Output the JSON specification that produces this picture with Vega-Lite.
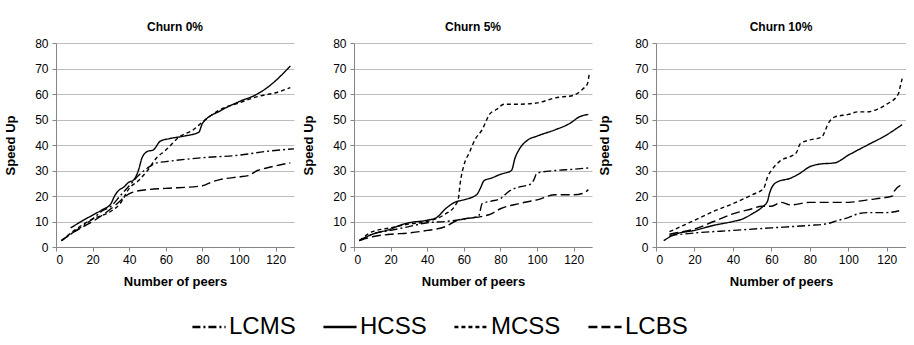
{
  "$schema": "https://vega.github.io/schema/vega-lite/v6.json",
  "padding": {"left": 4, "top": 21, "right": 0, "bottom": 0},
  "spacing": 5,
  "datasets": {
    "d": [
      {"panel": "Churn 0%", "series": "HCSS", "x": 8, "y": 7.5},
      {"panel": "Churn 0%", "series": "HCSS", "x": 15, "y": 10.5},
      {"panel": "Churn 0%", "series": "HCSS", "x": 20, "y": 12.5},
      {"panel": "Churn 0%", "series": "HCSS", "x": 25, "y": 14.5},
      {"panel": "Churn 0%", "series": "HCSS", "x": 30, "y": 17},
      {"panel": "Churn 0%", "series": "HCSS", "x": 32, "y": 20},
      {"panel": "Churn 0%", "series": "HCSS", "x": 34, "y": 22},
      {"panel": "Churn 0%", "series": "HCSS", "x": 37, "y": 23.5},
      {"panel": "Churn 0%", "series": "HCSS", "x": 40, "y": 25.5},
      {"panel": "Churn 0%", "series": "HCSS", "x": 42, "y": 26},
      {"panel": "Churn 0%", "series": "HCSS", "x": 45, "y": 30},
      {"panel": "Churn 0%", "series": "HCSS", "x": 47, "y": 35},
      {"panel": "Churn 0%", "series": "HCSS", "x": 50, "y": 37.5},
      {"panel": "Churn 0%", "series": "HCSS", "x": 53, "y": 38},
      {"panel": "Churn 0%", "series": "HCSS", "x": 57, "y": 41.5},
      {"panel": "Churn 0%", "series": "HCSS", "x": 62, "y": 42.5},
      {"panel": "Churn 0%", "series": "HCSS", "x": 70, "y": 43.5},
      {"panel": "Churn 0%", "series": "HCSS", "x": 78, "y": 45},
      {"panel": "Churn 0%", "series": "HCSS", "x": 80, "y": 48.5},
      {"panel": "Churn 0%", "series": "HCSS", "x": 90, "y": 53.5},
      {"panel": "Churn 0%", "series": "HCSS", "x": 100, "y": 57},
      {"panel": "Churn 0%", "series": "HCSS", "x": 110, "y": 60},
      {"panel": "Churn 0%", "series": "HCSS", "x": 118, "y": 64},
      {"panel": "Churn 0%", "series": "HCSS", "x": 124, "y": 68},
      {"panel": "Churn 0%", "series": "HCSS", "x": 128, "y": 71},

      {"panel": "Churn 0%", "series": "MCSS", "x": 3, "y": 2.5},
      {"panel": "Churn 0%", "series": "MCSS", "x": 10, "y": 6.5},
      {"panel": "Churn 0%", "series": "MCSS", "x": 20, "y": 11},
      {"panel": "Churn 0%", "series": "MCSS", "x": 30, "y": 14},
      {"panel": "Churn 0%", "series": "MCSS", "x": 35, "y": 17},
      {"panel": "Churn 0%", "series": "MCSS", "x": 40, "y": 23},
      {"panel": "Churn 0%", "series": "MCSS", "x": 45, "y": 26},
      {"panel": "Churn 0%", "series": "MCSS", "x": 50, "y": 30},
      {"panel": "Churn 0%", "series": "MCSS", "x": 55, "y": 35},
      {"panel": "Churn 0%", "series": "MCSS", "x": 60, "y": 38},
      {"panel": "Churn 0%", "series": "MCSS", "x": 67, "y": 43},
      {"panel": "Churn 0%", "series": "MCSS", "x": 75, "y": 46},
      {"panel": "Churn 0%", "series": "MCSS", "x": 80, "y": 49},
      {"panel": "Churn 0%", "series": "MCSS", "x": 90, "y": 54},
      {"panel": "Churn 0%", "series": "MCSS", "x": 100, "y": 56.5},
      {"panel": "Churn 0%", "series": "MCSS", "x": 110, "y": 59},
      {"panel": "Churn 0%", "series": "MCSS", "x": 120, "y": 60.5},
      {"panel": "Churn 0%", "series": "MCSS", "x": 128, "y": 62.5},

      {"panel": "Churn 0%", "series": "LCMS", "x": 3, "y": 2.5},
      {"panel": "Churn 0%", "series": "LCMS", "x": 10, "y": 6},
      {"panel": "Churn 0%", "series": "LCMS", "x": 20, "y": 11},
      {"panel": "Churn 0%", "series": "LCMS", "x": 25, "y": 14},
      {"panel": "Churn 0%", "series": "LCMS", "x": 30, "y": 16},
      {"panel": "Churn 0%", "series": "LCMS", "x": 35, "y": 20},
      {"panel": "Churn 0%", "series": "LCMS", "x": 40, "y": 24},
      {"panel": "Churn 0%", "series": "LCMS", "x": 45, "y": 28},
      {"panel": "Churn 0%", "series": "LCMS", "x": 50, "y": 31},
      {"panel": "Churn 0%", "series": "LCMS", "x": 55, "y": 33},
      {"panel": "Churn 0%", "series": "LCMS", "x": 60, "y": 33.5},
      {"panel": "Churn 0%", "series": "LCMS", "x": 80, "y": 35},
      {"panel": "Churn 0%", "series": "LCMS", "x": 100, "y": 36},
      {"panel": "Churn 0%", "series": "LCMS", "x": 115, "y": 37.5},
      {"panel": "Churn 0%", "series": "LCMS", "x": 130, "y": 38.5},

      {"panel": "Churn 0%", "series": "LCBS", "x": 3, "y": 2.5},
      {"panel": "Churn 0%", "series": "LCBS", "x": 10, "y": 6},
      {"panel": "Churn 0%", "series": "LCBS", "x": 15, "y": 8},
      {"panel": "Churn 0%", "series": "LCBS", "x": 20, "y": 10},
      {"panel": "Churn 0%", "series": "LCBS", "x": 30, "y": 15},
      {"panel": "Churn 0%", "series": "LCBS", "x": 35, "y": 18},
      {"panel": "Churn 0%", "series": "LCBS", "x": 38, "y": 20},
      {"panel": "Churn 0%", "series": "LCBS", "x": 42, "y": 21.5},
      {"panel": "Churn 0%", "series": "LCBS", "x": 50, "y": 22.5},
      {"panel": "Churn 0%", "series": "LCBS", "x": 60, "y": 23},
      {"panel": "Churn 0%", "series": "LCBS", "x": 80, "y": 24},
      {"panel": "Churn 0%", "series": "LCBS", "x": 85, "y": 25.5},
      {"panel": "Churn 0%", "series": "LCBS", "x": 90, "y": 26.5},
      {"panel": "Churn 0%", "series": "LCBS", "x": 100, "y": 27.5},
      {"panel": "Churn 0%", "series": "LCBS", "x": 105, "y": 28},
      {"panel": "Churn 0%", "series": "LCBS", "x": 110, "y": 30},
      {"panel": "Churn 0%", "series": "LCBS", "x": 115, "y": 31},
      {"panel": "Churn 0%", "series": "LCBS", "x": 128, "y": 33},

      {"panel": "Churn 5%", "series": "MCSS", "x": 3, "y": 2.5},
      {"panel": "Churn 5%", "series": "MCSS", "x": 10, "y": 6},
      {"panel": "Churn 5%", "series": "MCSS", "x": 20, "y": 7.5},
      {"panel": "Churn 5%", "series": "MCSS", "x": 30, "y": 9},
      {"panel": "Churn 5%", "series": "MCSS", "x": 40, "y": 10},
      {"panel": "Churn 5%", "series": "MCSS", "x": 50, "y": 13},
      {"panel": "Churn 5%", "series": "MCSS", "x": 55, "y": 16},
      {"panel": "Churn 5%", "series": "MCSS", "x": 57, "y": 19},
      {"panel": "Churn 5%", "series": "MCSS", "x": 58, "y": 25},
      {"panel": "Churn 5%", "series": "MCSS", "x": 60, "y": 32},
      {"panel": "Churn 5%", "series": "MCSS", "x": 63, "y": 37},
      {"panel": "Churn 5%", "series": "MCSS", "x": 66, "y": 42},
      {"panel": "Churn 5%", "series": "MCSS", "x": 70, "y": 46},
      {"panel": "Churn 5%", "series": "MCSS", "x": 74, "y": 52},
      {"panel": "Churn 5%", "series": "MCSS", "x": 78, "y": 54},
      {"panel": "Churn 5%", "series": "MCSS", "x": 82, "y": 56},
      {"panel": "Churn 5%", "series": "MCSS", "x": 90, "y": 56},
      {"panel": "Churn 5%", "series": "MCSS", "x": 100, "y": 56.5},
      {"panel": "Churn 5%", "series": "MCSS", "x": 110, "y": 58.5},
      {"panel": "Churn 5%", "series": "MCSS", "x": 120, "y": 59.5},
      {"panel": "Churn 5%", "series": "MCSS", "x": 125, "y": 62},
      {"panel": "Churn 5%", "series": "MCSS", "x": 127.5, "y": 64},
      {"panel": "Churn 5%", "series": "MCSS", "x": 128.5, "y": 68},

      {"panel": "Churn 5%", "series": "HCSS", "x": 3, "y": 2.5},
      {"panel": "Churn 5%", "series": "HCSS", "x": 10, "y": 5},
      {"panel": "Churn 5%", "series": "HCSS", "x": 20, "y": 7},
      {"panel": "Churn 5%", "series": "HCSS", "x": 25, "y": 8.5},
      {"panel": "Churn 5%", "series": "HCSS", "x": 30, "y": 9.5},
      {"panel": "Churn 5%", "series": "HCSS", "x": 40, "y": 10.5},
      {"panel": "Churn 5%", "series": "HCSS", "x": 45, "y": 11.5},
      {"panel": "Churn 5%", "series": "HCSS", "x": 50, "y": 15},
      {"panel": "Churn 5%", "series": "HCSS", "x": 55, "y": 17.5},
      {"panel": "Churn 5%", "series": "HCSS", "x": 60, "y": 18.5},
      {"panel": "Churn 5%", "series": "HCSS", "x": 67, "y": 20.5},
      {"panel": "Churn 5%", "series": "HCSS", "x": 69, "y": 23},
      {"panel": "Churn 5%", "series": "HCSS", "x": 71, "y": 26},
      {"panel": "Churn 5%", "series": "HCSS", "x": 75, "y": 27},
      {"panel": "Churn 5%", "series": "HCSS", "x": 80, "y": 28.5},
      {"panel": "Churn 5%", "series": "HCSS", "x": 86, "y": 30},
      {"panel": "Churn 5%", "series": "HCSS", "x": 88, "y": 35},
      {"panel": "Churn 5%", "series": "HCSS", "x": 90, "y": 38},
      {"panel": "Churn 5%", "series": "HCSS", "x": 95, "y": 42},
      {"panel": "Churn 5%", "series": "HCSS", "x": 100, "y": 43.5},
      {"panel": "Churn 5%", "series": "HCSS", "x": 110, "y": 46},
      {"panel": "Churn 5%", "series": "HCSS", "x": 118, "y": 48.5},
      {"panel": "Churn 5%", "series": "HCSS", "x": 123, "y": 51},
      {"panel": "Churn 5%", "series": "HCSS", "x": 128, "y": 52},

      {"panel": "Churn 5%", "series": "LCMS", "x": 3, "y": 2.5},
      {"panel": "Churn 5%", "series": "LCMS", "x": 10, "y": 5},
      {"panel": "Churn 5%", "series": "LCMS", "x": 20, "y": 6.5},
      {"panel": "Churn 5%", "series": "LCMS", "x": 30, "y": 8},
      {"panel": "Churn 5%", "series": "LCMS", "x": 40, "y": 9.5},
      {"panel": "Churn 5%", "series": "LCMS", "x": 50, "y": 10},
      {"panel": "Churn 5%", "series": "LCMS", "x": 60, "y": 11},
      {"panel": "Churn 5%", "series": "LCMS", "x": 68, "y": 12},
      {"panel": "Churn 5%", "series": "LCMS", "x": 70, "y": 17},
      {"panel": "Churn 5%", "series": "LCMS", "x": 75, "y": 18},
      {"panel": "Churn 5%", "series": "LCMS", "x": 80, "y": 19},
      {"panel": "Churn 5%", "series": "LCMS", "x": 85, "y": 22},
      {"panel": "Churn 5%", "series": "LCMS", "x": 90, "y": 23.5},
      {"panel": "Churn 5%", "series": "LCMS", "x": 96, "y": 24.5},
      {"panel": "Churn 5%", "series": "LCMS", "x": 98, "y": 26},
      {"panel": "Churn 5%", "series": "LCMS", "x": 100, "y": 29},
      {"panel": "Churn 5%", "series": "LCMS", "x": 110, "y": 30},
      {"panel": "Churn 5%", "series": "LCMS", "x": 120, "y": 30.5},
      {"panel": "Churn 5%", "series": "LCMS", "x": 128, "y": 31},

      {"panel": "Churn 5%", "series": "LCBS", "x": 3, "y": 2.5},
      {"panel": "Churn 5%", "series": "LCBS", "x": 10, "y": 4},
      {"panel": "Churn 5%", "series": "LCBS", "x": 20, "y": 5},
      {"panel": "Churn 5%", "series": "LCBS", "x": 30, "y": 5.5},
      {"panel": "Churn 5%", "series": "LCBS", "x": 40, "y": 6.5},
      {"panel": "Churn 5%", "series": "LCBS", "x": 50, "y": 8},
      {"panel": "Churn 5%", "series": "LCBS", "x": 55, "y": 10},
      {"panel": "Churn 5%", "series": "LCBS", "x": 60, "y": 11},
      {"panel": "Churn 5%", "series": "LCBS", "x": 70, "y": 12},
      {"panel": "Churn 5%", "series": "LCBS", "x": 75, "y": 13},
      {"panel": "Churn 5%", "series": "LCBS", "x": 80, "y": 15},
      {"panel": "Churn 5%", "series": "LCBS", "x": 90, "y": 17},
      {"panel": "Churn 5%", "series": "LCBS", "x": 100, "y": 18.5},
      {"panel": "Churn 5%", "series": "LCBS", "x": 110, "y": 20.5},
      {"panel": "Churn 5%", "series": "LCBS", "x": 120, "y": 20.5},
      {"panel": "Churn 5%", "series": "LCBS", "x": 125, "y": 21},
      {"panel": "Churn 5%", "series": "LCBS", "x": 128, "y": 22.5},

      {"panel": "Churn 10%", "series": "MCSS", "x": 7, "y": 6},
      {"panel": "Churn 10%", "series": "MCSS", "x": 10, "y": 7},
      {"panel": "Churn 10%", "series": "MCSS", "x": 20, "y": 10.5},
      {"panel": "Churn 10%", "series": "MCSS", "x": 30, "y": 14},
      {"panel": "Churn 10%", "series": "MCSS", "x": 40, "y": 17},
      {"panel": "Churn 10%", "series": "MCSS", "x": 50, "y": 20.5},
      {"panel": "Churn 10%", "series": "MCSS", "x": 56, "y": 23},
      {"panel": "Churn 10%", "series": "MCSS", "x": 58, "y": 27.5},
      {"panel": "Churn 10%", "series": "MCSS", "x": 60, "y": 30},
      {"panel": "Churn 10%", "series": "MCSS", "x": 65, "y": 34},
      {"panel": "Churn 10%", "series": "MCSS", "x": 70, "y": 35.5},
      {"panel": "Churn 10%", "series": "MCSS", "x": 73, "y": 37},
      {"panel": "Churn 10%", "series": "MCSS", "x": 75, "y": 40.5},
      {"panel": "Churn 10%", "series": "MCSS", "x": 80, "y": 42},
      {"panel": "Churn 10%", "series": "MCSS", "x": 86, "y": 43},
      {"panel": "Churn 10%", "series": "MCSS", "x": 90, "y": 49},
      {"panel": "Churn 10%", "series": "MCSS", "x": 93, "y": 51},
      {"panel": "Churn 10%", "series": "MCSS", "x": 100, "y": 52},
      {"panel": "Churn 10%", "series": "MCSS", "x": 105, "y": 53},
      {"panel": "Churn 10%", "series": "MCSS", "x": 110, "y": 53},
      {"panel": "Churn 10%", "series": "MCSS", "x": 115, "y": 54},
      {"panel": "Churn 10%", "series": "MCSS", "x": 120, "y": 56},
      {"panel": "Churn 10%", "series": "MCSS", "x": 126, "y": 60},
      {"panel": "Churn 10%", "series": "MCSS", "x": 127, "y": 63},
      {"panel": "Churn 10%", "series": "MCSS", "x": 128, "y": 66},

      {"panel": "Churn 10%", "series": "HCSS", "x": 4, "y": 2.5},
      {"panel": "Churn 10%", "series": "HCSS", "x": 10, "y": 5},
      {"panel": "Churn 10%", "series": "HCSS", "x": 20, "y": 6.5},
      {"panel": "Churn 10%", "series": "HCSS", "x": 30, "y": 8.5},
      {"panel": "Churn 10%", "series": "HCSS", "x": 40, "y": 10},
      {"panel": "Churn 10%", "series": "HCSS", "x": 45, "y": 11},
      {"panel": "Churn 10%", "series": "HCSS", "x": 50, "y": 13},
      {"panel": "Churn 10%", "series": "HCSS", "x": 55, "y": 15.5},
      {"panel": "Churn 10%", "series": "HCSS", "x": 58, "y": 18},
      {"panel": "Churn 10%", "series": "HCSS", "x": 59, "y": 21},
      {"panel": "Churn 10%", "series": "HCSS", "x": 60, "y": 23},
      {"panel": "Churn 10%", "series": "HCSS", "x": 63, "y": 25.5},
      {"panel": "Churn 10%", "series": "HCSS", "x": 70, "y": 27},
      {"panel": "Churn 10%", "series": "HCSS", "x": 75, "y": 29},
      {"panel": "Churn 10%", "series": "HCSS", "x": 80, "y": 31.5},
      {"panel": "Churn 10%", "series": "HCSS", "x": 85, "y": 32.5},
      {"panel": "Churn 10%", "series": "HCSS", "x": 93, "y": 33},
      {"panel": "Churn 10%", "series": "HCSS", "x": 100, "y": 36},
      {"panel": "Churn 10%", "series": "HCSS", "x": 110, "y": 40},
      {"panel": "Churn 10%", "series": "HCSS", "x": 120, "y": 44},
      {"panel": "Churn 10%", "series": "HCSS", "x": 128, "y": 48},

      {"panel": "Churn 10%", "series": "LCBS", "x": 7, "y": 5},
      {"panel": "Churn 10%", "series": "LCBS", "x": 10, "y": 5.5},
      {"panel": "Churn 10%", "series": "LCBS", "x": 20, "y": 7},
      {"panel": "Churn 10%", "series": "LCBS", "x": 30, "y": 10},
      {"panel": "Churn 10%", "series": "LCBS", "x": 40, "y": 13},
      {"panel": "Churn 10%", "series": "LCBS", "x": 50, "y": 15},
      {"panel": "Churn 10%", "series": "LCBS", "x": 55, "y": 16},
      {"panel": "Churn 10%", "series": "LCBS", "x": 60, "y": 16},
      {"panel": "Churn 10%", "series": "LCBS", "x": 65, "y": 17.5},
      {"panel": "Churn 10%", "series": "LCBS", "x": 70, "y": 16.5},
      {"panel": "Churn 10%", "series": "LCBS", "x": 80, "y": 17.5},
      {"panel": "Churn 10%", "series": "LCBS", "x": 100, "y": 17.5},
      {"panel": "Churn 10%", "series": "LCBS", "x": 110, "y": 18.5},
      {"panel": "Churn 10%", "series": "LCBS", "x": 120, "y": 19.5},
      {"panel": "Churn 10%", "series": "LCBS", "x": 123, "y": 20},
      {"panel": "Churn 10%", "series": "LCBS", "x": 124, "y": 22},
      {"panel": "Churn 10%", "series": "LCBS", "x": 128, "y": 24.5},

      {"panel": "Churn 10%", "series": "LCMS", "x": 7, "y": 4.5},
      {"panel": "Churn 10%", "series": "LCMS", "x": 20, "y": 5.5},
      {"panel": "Churn 10%", "series": "LCMS", "x": 40, "y": 6.5},
      {"panel": "Churn 10%", "series": "LCMS", "x": 60, "y": 7.5},
      {"panel": "Churn 10%", "series": "LCMS", "x": 80, "y": 8.5},
      {"panel": "Churn 10%", "series": "LCMS", "x": 88, "y": 9},
      {"panel": "Churn 10%", "series": "LCMS", "x": 95, "y": 10.5},
      {"panel": "Churn 10%", "series": "LCMS", "x": 100, "y": 11.5},
      {"panel": "Churn 10%", "series": "LCMS", "x": 105, "y": 13},
      {"panel": "Churn 10%", "series": "LCMS", "x": 110, "y": 13.5},
      {"panel": "Churn 10%", "series": "LCMS", "x": 120, "y": 13.5},
      {"panel": "Churn 10%", "series": "LCMS", "x": 128, "y": 14.5}
    ]
  },
  "hconcat": [
    {
      "width": 238, "height": 204,
      "title": "Churn 0%",
      "data": {"name": "d"},
      "transform": [{"filter": "datum.panel === 'Churn 0%'"}],
      "mark": {"type": "line", "interpolate": "monotone", "color": "black", "strokeWidth": 1.4},
      "encoding": {
        "x": {"field": "x", "type": "quantitative", "title": "Number of peers", "scale": {"domain": [0, 130], "nice": false}, "axis": {"values": [0, 20, 40, 60, 80, 100, 120]}},
        "y": {"field": "y", "type": "quantitative", "title": "Speed Up", "scale": {"domain": [0, 80], "nice": false}, "axis": {"values": [0, 10, 20, 30, 40, 50, 60, 70, 80]}},
        "strokeDash": {"field": "series", "type": "nominal", "title": null, "scale": {"domain": ["LCMS", "HCSS", "MCSS", "LCBS"], "range": [[8, 3, 2, 3], [1, 0], [4, 3], [9, 4]]},
          "legend": {"orient": "none", "legendX": 135, "legendY": 266, "direction": "horizontal"}},
        "detail": {"field": "series"}
      }
    },
    {
      "width": 238, "height": 204,
      "title": "Churn 5%",
      "data": {"name": "d"},
      "transform": [{"filter": "datum.panel === 'Churn 5%'"}],
      "mark": {"type": "line", "interpolate": "monotone", "color": "black", "strokeWidth": 1.4},
      "encoding": {
        "x": {"field": "x", "type": "quantitative", "title": "Number of peers", "scale": {"domain": [0, 130], "nice": false}, "axis": {"values": [0, 20, 40, 60, 80, 100, 120]}},
        "y": {"field": "y", "type": "quantitative", "title": "Speed Up", "scale": {"domain": [0, 80], "nice": false}, "axis": {"values": [0, 10, 20, 30, 40, 50, 60, 70, 80]}},
        "strokeDash": {"field": "series", "type": "nominal", "title": null, "scale": {"domain": ["LCMS", "HCSS", "MCSS", "LCBS"], "range": [[8, 3, 2, 3], [1, 0], [4, 3], [9, 4]]}},
        "detail": {"field": "series"}
      }
    },
    {
      "width": 250, "height": 204,
      "title": "Churn 10%",
      "data": {"name": "d"},
      "transform": [{"filter": "datum.panel === 'Churn 10%'"}],
      "mark": {"type": "line", "interpolate": "monotone", "color": "black", "strokeWidth": 1.4},
      "encoding": {
        "x": {"field": "x", "type": "quantitative", "title": "Number of peers", "scale": {"domain": [0, 130], "nice": false}, "axis": {"values": [0, 20, 40, 60, 80, 100, 120]}},
        "y": {"field": "y", "type": "quantitative", "title": "Speed Up", "scale": {"domain": [0, 80], "nice": false}, "axis": {"values": [0, 10, 20, 30, 40, 50, 60, 70, 80], "titlePadding": 23}},
        "strokeDash": {"field": "series", "type": "nominal", "title": null, "scale": {"domain": ["LCMS", "HCSS", "MCSS", "LCBS"], "range": [[8, 3, 2, 3], [1, 0], [4, 3], [9, 4]]}},
        "detail": {"field": "series"}
      }
    }
  ],
  "config": {
    "font": "Liberation Sans",
    "view": {"stroke": null},
    "title": {"fontSize": 12, "fontWeight": "bold", "color": "black", "offset": 3},
    "axis": {
      "labelFontSize": 12, "labelColor": "black", "titleFontSize": 13, "titleFontWeight": "bold", "titleColor": "black",
      "domainColor": "#868686", "tickColor": "#868686", "tickSize": 4, "labelPadding": 3
    },
    "axisY": {"grid": true, "gridColor": "#bdbdbd", "labelPadding": 4, "titlePadding": 17},
    "axisX": {"grid": false, "titlePadding": 10},
    "legend": {
      "symbolType": "stroke", "symbolSize": 1100, "symbolStrokeColor": "black", "symbolStrokeWidth": 2.5,
      "labelFontSize": 24, "labelColor": "black", "labelOffset": 2, "columnPadding": 22, "labelLimit": 200
    }
  }
}
